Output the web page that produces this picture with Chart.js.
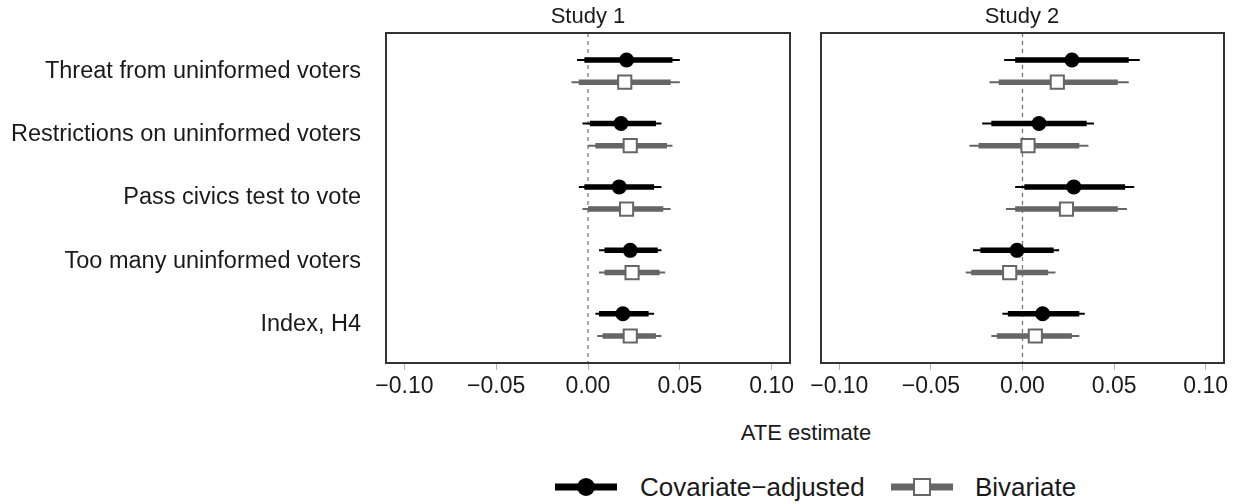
<!DOCTYPE html>
<html>
<head>
<meta charset="utf-8">
<script src="https://cdn.jsdelivr.net/npm/chart.js@4/dist/chart.umd.min.js"></script>
<style>
  body { margin: 0; width: 1244px; height: 504px; background: #fff; position: relative; overflow: hidden;
         font-family: "Liberation Sans", Arial, sans-serif; color: #1a1a1a; }
  canvas { position: absolute; top: 0; }
  #c1 { left: 0; }
  #c2 { left: 805px; }
  .txt { position: absolute; font-size: 22px; line-height: 22px; white-space: nowrap; }
  .leg { font-size: 26px; line-height: 26px; }
  .center { text-align: center; width: 300px; }
  .glyph { position: absolute; }
</style>
</head>
<body>
<canvas id="c1" width="805" height="410"></canvas>
<canvas id="c2" width="439" height="410"></canvas>

<div class="txt center" style="left:438px; top:5px;">Study 1</div>
<div class="txt center" style="left:872px; top:5px;">Study 2</div>
<div class="txt center" style="left:656px; top:422px;">ATE estimate</div>

<svg class="glyph" style="left:555px; top:477px;" width="62" height="20">
  <line x1="0" y1="10" x2="62" y2="10" stroke="#000" stroke-width="7"/>
  <circle cx="31" cy="10" r="9" fill="#000"/>
</svg>
<div class="txt leg" style="left:640px; top:474px;">Covariate−adjusted</div>
<svg class="glyph" style="left:891px; top:477px;" width="62" height="20">
  <line x1="0" y1="10" x2="62" y2="10" stroke="#666" stroke-width="7"/>
  <rect x="23" y="2" width="16" height="16" fill="#fff" stroke="#666" stroke-width="2"/>
</svg>
<div class="txt leg" style="left:975px; top:474px;">Bivariate</div>

<script>
const categories = [
  'Threat from uninformed voters',
  'Restrictions on uninformed voters',
  'Pass civics test to vote',
  'Too many uninformed voters',
  'Index, H4'
];
const xTicks = [-0.10, -0.05, 0, 0.05, 0.10];

// Study 1
const s1AdjEst  = [0.021, 0.018, 0.017, 0.023, 0.019];
const s1AdjLo90 = [-0.002, 0.001, -0.002, 0.009, 0.006];
const s1AdjHi90 = [0.046, 0.037, 0.036, 0.038, 0.033];
const s1AdjLo95 = [-0.006, -0.003, -0.005, 0.006, 0.004];
const s1AdjHi95 = [0.050, 0.040, 0.040, 0.040, 0.036];

const s1BivEst  = [0.020, 0.023, 0.021, 0.024, 0.023];
const s1BivLo90 = [-0.005, 0.004, 0.000, 0.009, 0.008];
const s1BivHi90 = [0.045, 0.043, 0.041, 0.039, 0.037];
const s1BivLo95 = [-0.009, 0.000, -0.003, 0.006, 0.005];
const s1BivHi95 = [0.050, 0.046, 0.045, 0.042, 0.040];

// Study 2
const s2AdjEst  = [0.027, 0.009, 0.028, -0.003, 0.011];
const s2AdjLo90 = [-0.004, -0.017, 0.001, -0.023, -0.008];
const s2AdjHi90 = [0.058, 0.035, 0.056, 0.017, 0.031];
const s2AdjLo95 = [-0.010, -0.022, -0.004, -0.027, -0.011];
const s2AdjHi95 = [0.064, 0.039, 0.061, 0.020, 0.034];

const s2BivEst  = [0.019, 0.003, 0.024, -0.007, 0.007];
const s2BivLo90 = [-0.013, -0.024, -0.004, -0.028, -0.014];
const s2BivHi90 = [0.052, 0.031, 0.052, 0.014, 0.027];
const s2BivLo95 = [-0.018, -0.029, -0.009, -0.031, -0.017];
const s2BivHi95 = [0.058, 0.036, 0.057, 0.018, 0.031];

const BLACK = '#000000';
const GREY = '#666666';
const TEXT = '#1a1a1a';
const FONT = '"Liberation Sans", Arial, sans-serif';
const OFF = 0.175; // vertical dodge between the two estimates

// interval segments, separated by gaps
function segs(lo, hi, off) {
  const out = [];
  lo.forEach((v, i) => {
    out.push({ x: v, y: i + 1 + off }, { x: hi[i], y: i + 1 + off }, { x: null, y: null });
  });
  return out;
}
function pts(est, off) {
  return est.map((v, i) => ({ x: v, y: i + 1 + off }));
}

const panelFrame = {
  id: 'panelFrame',
  beforeDatasetsDraw(chart) {
    const { ctx, chartArea: a, scales: { x } } = chart;
    const x0 = x.getPixelForValue(0);
    ctx.save();
    ctx.strokeStyle = '#7a7a7a';
    ctx.lineWidth = 1.3;
    ctx.setLineDash([4, 4]);
    ctx.beginPath();
    ctx.moveTo(x0, a.top);
    ctx.lineTo(x0, a.bottom);
    ctx.stroke();
    ctx.restore();
  },
  afterDraw(chart) {
    const { ctx, chartArea: a } = chart;
    ctx.save();
    ctx.strokeStyle = '#333333';
    ctx.lineWidth = 2;
    ctx.strokeRect(a.left, a.top, a.right - a.left, a.bottom - a.top);
    ctx.restore();
  }
};

function makePanel(id, d, showY, yWidth, padRight) {
  const lineDs = (data, color, width, order) => ({
    type: 'line', data, borderColor: color, borderWidth: width, borderCapStyle: 'butt',
    pointRadius: 0, spanGaps: false, tension: 0, order
  });
  new Chart(document.getElementById(id), {
    data: {
      datasets: [
        { type: 'scatter', label: 'Covariate-adjusted', data: pts(d.adjEst, -OFF),
          pointStyle: 'circle', pointRadius: 7.5, backgroundColor: BLACK, borderWidth: 0, order: 0 },
        { type: 'scatter', label: 'Bivariate', data: pts(d.bivEst, OFF),
          pointStyle: 'rect', pointRadius: 9.3, backgroundColor: '#ffffff', borderColor: GREY, borderWidth: 2, order: 1 },
        lineDs(segs(d.adjLo90, d.adjHi90, -OFF), BLACK, 5.5, 2),
        lineDs(segs(d.bivLo90, d.bivHi90, OFF), GREY, 5.5, 3),
        lineDs(segs(d.adjLo95, d.adjHi95, -OFF), BLACK, 2, 4),
        lineDs(segs(d.bivLo95, d.bivHi95, OFF), GREY, 2, 5)
      ]
    },
    options: {
      responsive: false,
      animation: false,
      devicePixelRatio: 1,
      layout: { padding: { top: 33, right: padRight, bottom: 0, left: 0 } },
      plugins: { legend: { display: false }, tooltip: { enabled: false }, title: { display: false } },
      scales: {
        x: {
          type: 'linear', min: -0.11, max: 0.11,
          afterBuildTicks: ax => { ax.ticks = xTicks.map(v => ({ value: v })); },
          ticks: {
            autoSkip: false, maxRotation: 0, padding: 3, color: TEXT,
            font: { family: FONT, size: 23 },
            callback: v => (v < 0 ? '\u2212' : '') + Math.abs(v).toFixed(2)
          },
          grid: { drawOnChartArea: false, drawTicks: true, tickLength: 7, color: '#b3b3b3' },
          border: { display: false },
          afterFit: ax => { ax.height = 47; ax.paddingLeft = 0; ax.paddingRight = 0; }
        },
        y: {
          type: 'linear', reverse: true, min: 0.4, max: 5.6,
          afterBuildTicks: ax => { ax.ticks = categories.map((c, i) => ({ value: i + 1 })); },
          ticks: {
            display: showY, padding: 25, color: TEXT,
            font: { family: FONT, size: 23.5 },
            callback: v => categories[Math.round(v) - 1]
          },
          grid: { display: false, drawTicks: false },
          border: { display: false },
          afterFit: ax => { ax.width = yWidth; ax.paddingTop = 0; ax.paddingBottom = 0; }
        }
      }
    },
    plugins: [panelFrame]
  });
}

makePanel('c1', {
  adjEst: s1AdjEst, adjLo90: s1AdjLo90, adjHi90: s1AdjHi90, adjLo95: s1AdjLo95, adjHi95: s1AdjHi95,
  bivEst: s1BivEst, bivLo90: s1BivLo90, bivHi90: s1BivHi90, bivLo95: s1BivLo95, bivHi95: s1BivHi95
}, true, 386, 15);

makePanel('c2', {
  adjEst: s2AdjEst, adjLo90: s2AdjLo90, adjHi90: s2AdjHi90, adjLo95: s2AdjLo95, adjHi95: s2AdjHi95,
  bivEst: s2BivEst, bivLo90: s2BivLo90, bivHi90: s2BivHi90, bivLo95: s2BivLo95, bivHi95: s2BivHi95
}, false, 16, 20);
</script>
</body>
</html>
